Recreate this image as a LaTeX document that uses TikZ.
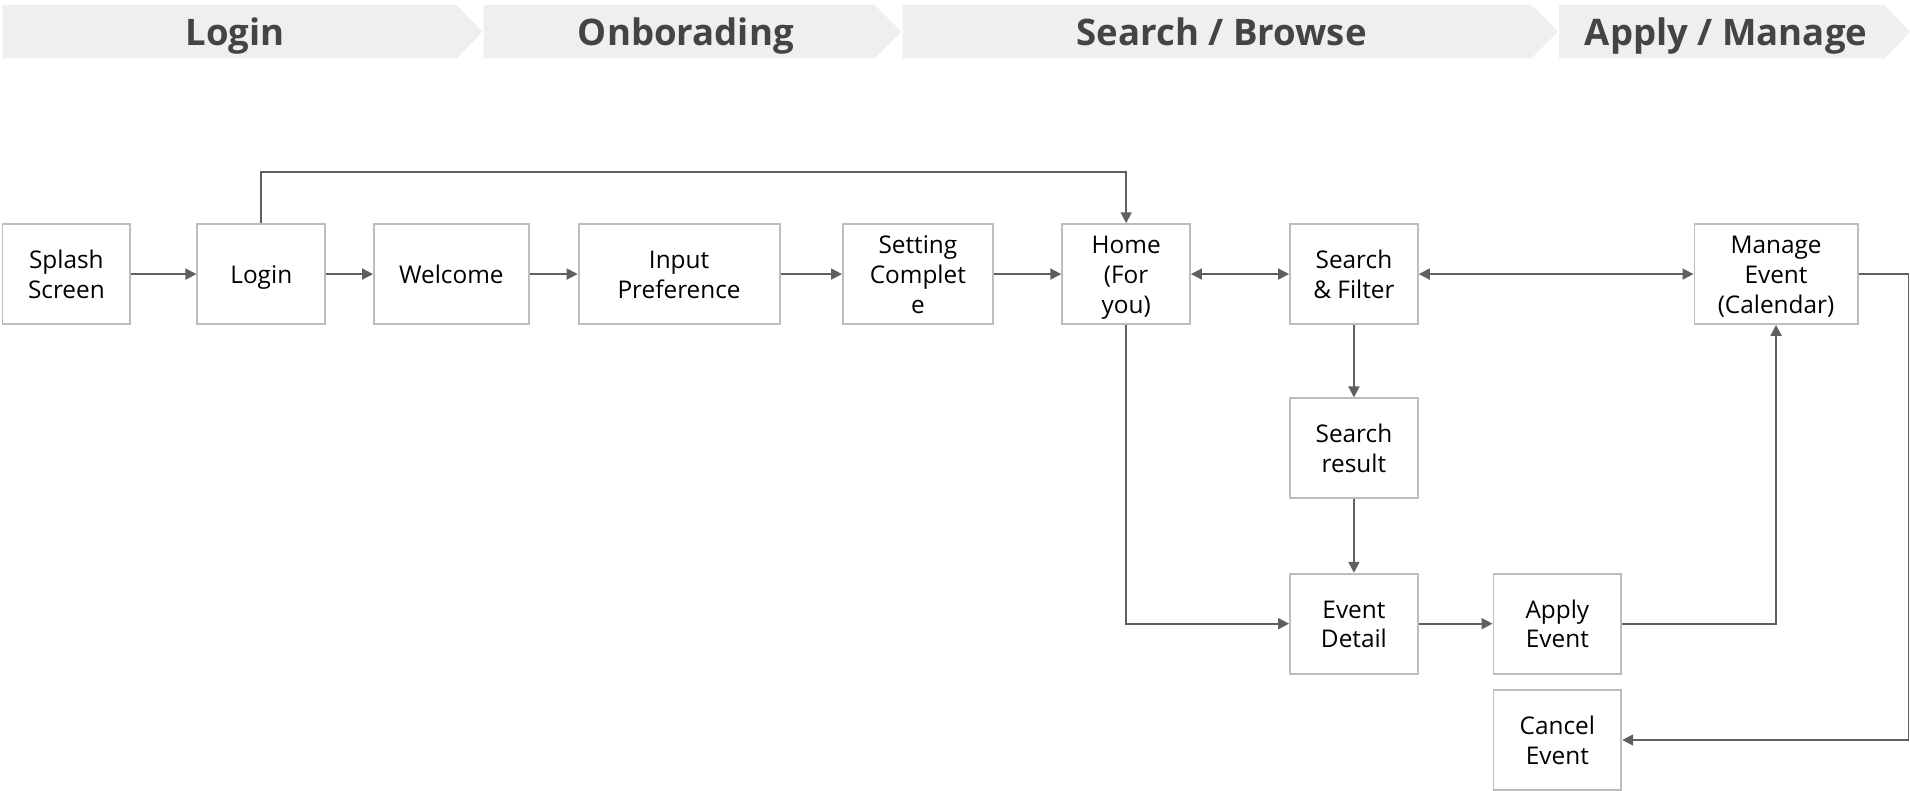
\documentclass[tikz,border=0pt]{standalone}
\usepackage{fontspec}
\setmainfont{Open Sans}
\usetikzlibrary{arrows.meta}
\definecolor{bandfill}{HTML}{EFEFEF}
\definecolor{hdrtext}{HTML}{444444}
\definecolor{boxline}{HTML}{BDBDBD}
\definecolor{arrline}{HTML}{5F5F5F}
\newcommand{\bxt}{\rule{0pt}{20.7pt}}
\newcommand{\bxb}{\rule[-5.5pt]{0pt}{5.5pt}}
\tikzset{
  band/.style={fill=bandfill, draw=none},
  hdr/.style={font=\fontsize{30}{36}\selectfont\bfseries, text=hdrtext, inner sep=0pt, anchor=base},
  box/.style={draw=boxline, line width=1.5pt, fill=white, align=center, inner sep=0pt,
    minimum height=82pt, font=\fontsize{20}{24.5}\selectfont},
  arr/.style={draw=arrline, line width=1.5pt, -{Triangle[length=9pt,width=9pt]}},
  darr/.style={draw=arrline, line width=1.5pt, {Triangle[length=9pt,width=9pt]}-{Triangle[length=9pt,width=9pt]}}
}
\begin{document}
\begin{tikzpicture}[x=1pt,y=-1pt]
\useasboundingbox (0,0) rectangle (1568,649);
% header bands
\fill[band] (2,4) -- (375,4) -- (396,26) -- (375,48) -- (2,48) -- cycle;
\fill[band] (397,4) -- (718,4) -- (740,26) -- (718,48) -- (397,48) -- cycle;
\fill[band] (741,4) -- (1257,4) -- (1279,26) -- (1257,48) -- (741,48) -- cycle;
\fill[band] (1280,4) -- (1547,4) -- (1568,26) -- (1547,48) -- (1280,48) -- cycle;
\node[hdr] (h1) at (193,37) {Login};
\node[hdr] (h2) at (563,37) {Onborading};
\node[hdr] (h3) at (1003,37) {Search / Browse};
\node[hdr] (h4) at (1417,37) {Apply / Manage};
% boxes
\node[box, minimum width=105pt] (splash) at (54.5,225) {\bxt Splash\\Screen\bxb};
\node[box, minimum width=105pt] (login) at (214.5,225) {\bxt Login\bxb};
\node[box, minimum width=127pt] (welcome) at (370.5,225) {\bxt Welcome\bxb};
\node[box, minimum width=165pt] (input) at (557.5,225) {\bxt Input\\Preference\bxb};
\node[box, minimum width=123pt] (setting) at (753.5,225) {\bxt Setting\\Complet\\e\bxb};
\node[box, minimum width=105pt] (home) at (924.5,225) {\bxt Home\\(For\\you)\bxb};
\node[box, minimum width=105pt] (search) at (1111.5,225) {\bxt Search\\\& Filter\bxb};
\node[box, minimum width=134pt] (manage) at (1458,225) {\bxt Manage\\Event\\(Calendar)\bxb};
\node[box, minimum width=105pt] (result) at (1111.5,368) {\bxt Search\\result\bxb};
\node[box, minimum width=105pt] (detail) at (1111.5,512) {\bxt Event\\Detail\bxb};
\node[box, minimum width=105pt] (apply) at (1278.5,512) {\bxt Apply\\Event\bxb};
\node[box, minimum width=105pt] (cancel) at (1278.5,607.5) {\bxt Cancel\\Event\bxb};
% helper coordinates
\coordinate (toprow) at (925,141);
\coordinate (rightedge) at (1566.8,0);
% connectors
\draw[arr] (splash) -- (login);
\draw[arr] (login) -- (welcome);
\draw[arr] (welcome) -- (input);
\draw[arr] (input) -- (setting);
\draw[arr] (setting) -- (home);
\draw[arr] (login.north) -- (login.north |- toprow) -| (home.north);
\draw[darr] (home) -- (search);
\draw[darr] (search) -- (manage);
\draw[arr] (search) -- (result);
\draw[arr] (result) -- (detail);
\draw[arr] (home.south) |- (detail.west);
\draw[arr] (detail) -- (apply);
\draw[arr] (apply.east) -| (manage.south);
\draw[arr] (manage.east) -- (manage.east -| rightedge) |- (cancel.east);
\end{tikzpicture}
\end{document}
